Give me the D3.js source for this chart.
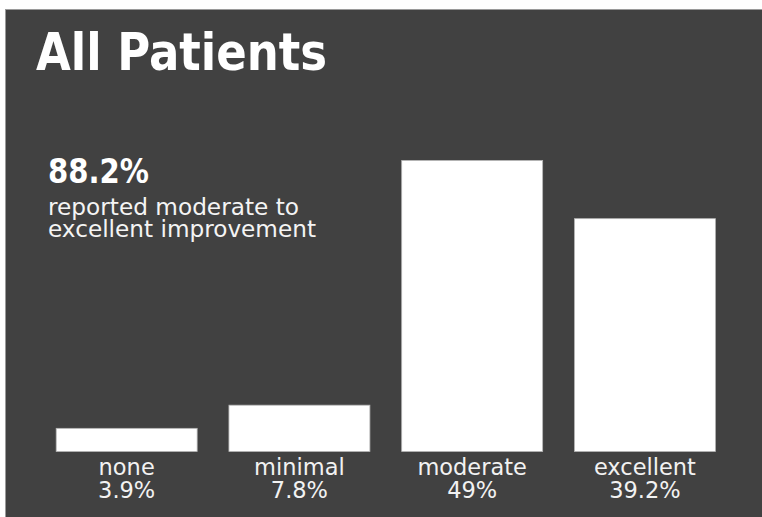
<!DOCTYPE html>
<html>
<head>
<meta charset="utf-8">
<script src="https://cdn.jsdelivr.net/npm/d3@7/dist/d3.min.js"></script>
<style>
  html, body { margin: 0; padding: 0; background: #ffffff; }
  svg { display: block; }
</style>
</head>
<body>
<script>
// ---- data ----
const categories = ["none", "minimal", "moderate", "excellent"];
const values = [3.9, 7.8, 49, 39.2];
const valueLabels = ["3.9%", "7.8%", "49%", "39.2%"];
const titleText = "All Patients";
const headlineText = "88.2%";
const noteLines = ["reported moderate to", "excellent improvement"];

const W = 762, H = 517;
const svg = d3.select("body").append("svg").attr("width", W).attr("height", H);

// panel
svg.append("rect")
  .attr("x", 5.5).attr("y", 9.5)
  .attr("width", W - 5).attr("height", H - 9)
  .attr("fill", "#414141")
  .attr("stroke", "#9a9a9a").attr("stroke-width", 1);

// scales
const x = d3.scaleBand()
  .domain(categories)
  .range([40.3, 731.3])
  .paddingInner(0.184)
  .paddingOuter(0.092);

const y = d3.scaleLinear()
  .domain([0, 50])
  .range([451.5, 154.5]);

// bars
svg.append("g").selectAll("rect")
  .data(categories)
  .join("rect")
  .attr("x", d => x(d))
  .attr("width", x.bandwidth())
  .attr("y", (d, i) => y(values[i]))
  .attr("height", (d, i) => y(0) - y(values[i]))
  .attr("fill", "#ffffff")
  .attr("stroke", "#b5b5b5")
  .attr("stroke-width", 0.8);

// category labels and values (drawn via the band scale)
const labelFont = "'DejaVu Sans', Verdana, sans-serif";
const lg = svg.append("g").attr("fill", "#f2f2f2")
  .attr("font-family", labelFont).attr("font-size", 22.5)
  .attr("text-anchor", "middle");
lg.selectAll("text.cat")
  .data(categories)
  .join("text")
  .attr("class", "cat")
  .attr("x", d => x(d) + x.bandwidth() / 2)
  .attr("y", 474.5)
  .text(d => d);
lg.selectAll("text.val")
  .data(categories)
  .join("text")
  .attr("class", "val")
  .attr("x", d => x(d) + x.bandwidth() / 2)
  .attr("y", 497.5)
  .text((d, i) => valueLabels[i]);

// title
svg.append("text")
  .attr("x", 36).attr("y", 70)
  .attr("fill", "#ffffff")
  .attr("font-family", "'DejaVu Sans Condensed', 'DejaVu Sans', sans-serif")
  .attr("font-weight", "bold")
  .attr("font-size", 51)
  .attr("textLength", 291)
  .attr("lengthAdjust", "spacingAndGlyphs")
  .text(titleText);

// headline number
svg.append("text")
  .attr("x", 48).attr("y", 183)
  .attr("fill", "#ffffff")
  .attr("font-family", "'DejaVu Sans Condensed', 'DejaVu Sans', sans-serif")
  .attr("font-weight", "bold")
  .attr("font-size", 34)
  .attr("textLength", 101)
  .attr("lengthAdjust", "spacingAndGlyphs")
  .text(headlineText);

// note lines
const noteLengths = [251, 268];
svg.append("g").selectAll("text")
  .data(noteLines)
  .join("text")
  .attr("x", 48)
  .attr("y", (d, i) => 215 + i * 21.5)
  .attr("fill", "#f4f4f4")
  .attr("font-family", labelFont)
  .attr("font-size", 23)
  .attr("textLength", (d, i) => noteLengths[i])
  .attr("lengthAdjust", "spacingAndGlyphs")
  .text(d => d);
</script>
</body>
</html>
